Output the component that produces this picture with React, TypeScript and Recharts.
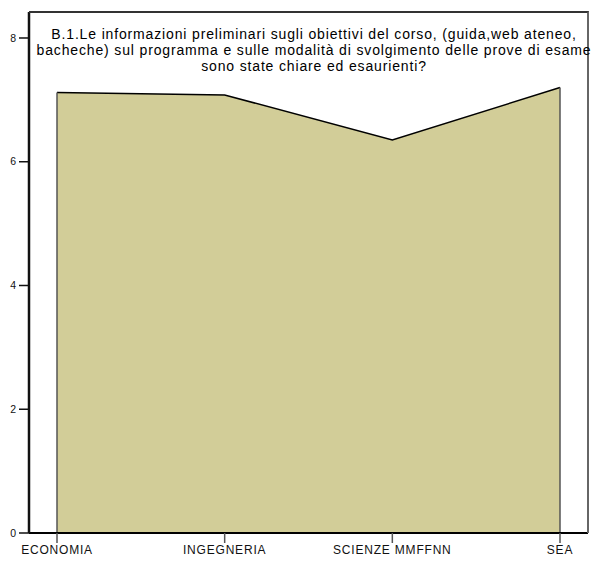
import React from "react";
import {
  AreaChart,
  Area,
  XAxis,
  YAxis,
  ReferenceLine,
} from "recharts";

const categories = ["ECONOMIA", "INGEGNERIA", "SCIENZE MMFFNN", "SEA"];
const values = [7.12, 7.08, 6.35, 7.2];
const yTicks = [0, 2, 4, 6, 8];
const titleLines = [
  "B.1.Le informazioni preliminari sugli obiettivi del corso, (guida,web ateneo,",
  "bacheche) sul programma e sulle modalità di svolgimento delle prove di esame",
  "sono state chiare ed esaurienti?",
];

const font = "'Liberation Sans', Arial, sans-serif";

const App: React.FC = () => {
  const data = categories.map((name, i) => ({ name, value: values[i] }));
  const first = data[0];
  const last = data[data.length - 1];

  return (
    <div style={{ position: "absolute", left: 0, top: 0, width: 602, height: 561, background: "#fff" }}>
      <AreaChart
        width={602}
        height={561}
        data={data}
        margin={{ top: 12, right: 14, bottom: 0, left: 0 }}
      >
        <XAxis
          dataKey="name"
          interval={0}
          padding={{ left: 28, right: 28 }}
          height={28}
          tickSize={10}
          tickMargin={2}
          axisLine={{ stroke: "#000", strokeWidth: 2 }}
          tickLine={{ stroke: "#555", strokeWidth: 1.5 }}
          tick={{ fontSize: 12, fill: "#111", fontFamily: font, letterSpacing: 0.8 }}
        />
        <YAxis
          type="number"
          domain={[0, 8.42]}
          ticks={yTicks}
          width={29}
          tickSize={10}
          tickMargin={3}
          axisLine={{ stroke: "#111", strokeWidth: 2.5 }}
          tickLine={{ stroke: "#111", strokeWidth: 1.5 }}
          tick={{ fontSize: 10.5, fill: "#111", fontFamily: font }}
        />
        <Area
          type="linear"
          dataKey="value"
          fill="#D2CD98"
          fillOpacity={1}
          stroke="#000"
          strokeWidth={1.5}
          isAnimationActive={false}
          dot={false}
          activeDot={false}
        />
        <ReferenceLine
          segment={[
            { x: first.name, y: 0 },
            { x: first.name, y: first.value },
          ]}
          stroke="#555"
          strokeWidth={1.5}
        />
        <ReferenceLine
          segment={[
            { x: last.name, y: 0 },
            { x: last.name, y: last.value },
          ]}
          stroke="#555"
          strokeWidth={1.5}
        />
      </AreaChart>
      {/* frame around the plot area (top and right edges) */}
      <div
        style={{
          position: "absolute",
          left: 29,
          top: 11,
          width: 560,
          height: 522,
          boxSizing: "border-box",
          borderTop: "2px solid #333",
          borderRight: "2px solid #666",
          pointerEvents: "none",
        }}
      />
      <div
        style={{
          position: "absolute",
          left: 14,
          top: 26,
          width: 600,
          textAlign: "center",
          fontFamily: font,
          fontSize: 14,
          letterSpacing: 0.85,
          lineHeight: "16px",
          color: "#000",
          whiteSpace: "nowrap",
          pointerEvents: "none",
        }}
      >
        {titleLines.map((line) => (
          <div key={line}>{line}</div>
        ))}
      </div>
    </div>
  );
};

export default App;
